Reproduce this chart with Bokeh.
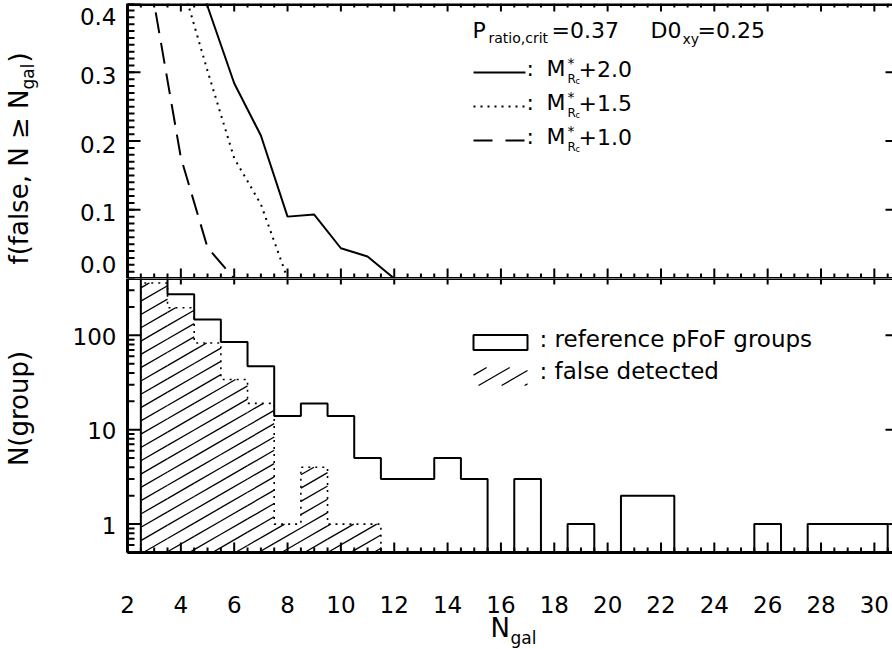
import math
import numpy as np
from bokeh.plotting import figure
from bokeh.layouts import column
from bokeh.models import Range1d, LogScale, Label
from bokeh.embed import file_html
from bokeh.resources import INLINE

# ---------------- data ----------------
# top panel: f(false, N >= Ngal) for three magnitude limits
n_m20 = [2, 3, 4, 5, 6, 7, 8, 9, 10, 11, 12]
f_m20 = [0.80, 0.62, 0.51, 0.396, 0.284, 0.208, 0.090, 0.093, 0.044, 0.032, 0.0]
n_m15 = [2, 3, 4, 5, 6, 7, 8]
f_m15 = [0.80, 0.60, 0.435, 0.302, 0.175, 0.108, 0.0]
n_m10 = [2, 3, 4, 5, 6]
f_m10 = [0.70, 0.40, 0.176, 0.045, 0.0]

# bottom panel: histograms of N(group) per Ngal bin
hist_n = list(range(3, 31))
hist_reference = [480, 272, 147, 85, 47, 14, 19, 14, 5, 3, 3, 5, 3, 0, 3, 0, 1, 0,
                  2, 2, 0, 0, 0, 1, 0, 1, 1, 1]
hist_false = [359, 196, 83, 34, 19, 1, 4, 1, 1, 0, 0, 0, 0, 0, 0, 0, 0, 0,
              0, 0, 0, 0, 0, 0, 0, 0, 0, 0]

x_ticks = list(range(2, 31, 2))
x_tick_labels = [str(t) for t in x_ticks]
top_y_ticks = [0.0, 0.1, 0.2, 0.3, 0.4]
top_y_labels = ["0.0", "0.1", "0.2", "0.3", "0.4"]
bot_y_ticks = [1, 10, 100]
bot_y_labels = ["1", "10", "100"]

# ---------------- layout constants (window pixels) ----------------
FONT = "DejaVu Sans"
W = 892
FL, FR = 127, 892
XMIN, XMAX = 2.0, 30.68
T_TOP, T_BOT = 3, 278
B_TOP, B_BOT = 278, 552
H_ALL = 649
TOP_YMIN, TOP_YMAX = 0.0, 0.4
BOT_YMIN, BOT_YMAX = 0.5, 400.0
LG0, LG1 = math.log10(BOT_YMIN), math.log10(BOT_YMAX)


def xd(X):
    return XMIN + (X - FL) / (FR - FL) * (XMAX - XMIN)


def Xp(x):
    return FL + (x - XMIN) / (XMAX - XMIN) * (FR - FL)


def yd_top(Y):
    return TOP_YMAX - (Y - T_TOP) / (T_BOT - T_TOP) * (TOP_YMAX - TOP_YMIN)


def Yp_top(v):
    return T_BOT - (v - TOP_YMIN) / (TOP_YMAX - TOP_YMIN) * (T_BOT - T_TOP)


def yd_bot(Y):
    return 10 ** (LG1 - (Y - B_TOP) / (B_BOT - B_TOP) * (LG1 - LG0))


def Yp_bot(y):
    return B_TOP + (LG1 - math.log10(y)) / (LG1 - LG0) * (B_BOT - B_TOP)


def add_label(p, X, Y, text, conv_y, size="22px", align="left", angle=0.0):
    """text whose visual middle sits at pixel row Y"""
    p.add_layout(Label(x=xd(X), y=conv_y(Y), text=text, text_font=FONT, text_font_size=size,
                       text_color="black", text_align=align, text_baseline="middle",
                       angle=angle))


def hline(p, Y, X0, X1, conv_y, width=3):
    p.line([xd(X0), xd(X1)], [conv_y(Y), conv_y(Y)], line_color="black", line_width=width)


def ticks_h(p, Ys, Xfrom, length, conv_y, width=2):
    """horizontal tick marks (for y axes) at pixel rows Ys"""
    p.segment([xd(Xfrom)] * len(Ys), [conv_y(Y) for Y in Ys],
              [xd(Xfrom + length)] * len(Ys), [conv_y(Y) for Y in Ys],
              line_color="black", line_width=width)


def ticks_v(p, xs, Yfrom, length, conv_y, width=2):
    """vertical tick marks (for x axes) at data x positions"""
    p.segment(list(xs), [conv_y(Yfrom)] * len(xs), list(xs), [conv_y(Yfrom + length)] * len(xs),
              line_color="black", line_width=width)


def make_fig(height, yr, top_border):
    p = figure(width=W, height=height, x_range=Range1d(xd(0), xd(W)), y_range=yr,
               x_axis_type=None, y_axis_type=None, output_backend="svg", toolbar_location=None,
               title=None, min_border_left=0, min_border_right=0, min_border_top=top_border,
               min_border_bottom=0)
    p.outline_line_color = None
    p.grid.visible = False
    p.background_fill_color = "white"
    p.border_fill_color = "white"
    return p


x_major = [float(t) for t in x_ticks]
x_minor = [float(v) for v in np.arange(2.0, 31.0, 0.5) if v not in x_ticks and v < XMAX]

# ================= top panel =================
top = make_fig(T_BOT, Range1d(TOP_YMIN, TOP_YMAX), T_TOP)

top.line(n_m20, f_m20, line_color="black", line_width=2)
top.line(n_m15, f_m15, line_color="black", line_width=2, line_dash="2 5")
top.line(n_m10, f_m10, line_color="black", line_width=2, line_dash="21 10")

# axes (drawn by hand)
top.line([XMIN, XMIN], [TOP_YMIN, TOP_YMAX], line_color="black", line_width=3)
hline(top, 4.0, FL, FR, yd_top)
hline(top, T_BOT, FL, FR, yd_top)
tyM = [Yp_top(v) for v in top_y_ticks]
tym = [Yp_top(v) for v in np.arange(0.0, 0.4001, 0.01)]
ticks_h(top, tym, FL, 7, yd_top)
ticks_h(top, tyM, FL, 13, yd_top)
ticks_h(top, tyM[1:4], FR, -7, yd_top)
ticks_v(top, x_minor, T_BOT, -5, yd_top)
ticks_v(top, x_major, T_BOT, -10, yd_top)
ticks_v(top, x_minor, T_TOP, 4, yd_top)
ticks_v(top, x_major, T_TOP, 8, yd_top)

# y tick labels (IDL-style placement)
shifts = [-14, 3, 3, 3, 13]
for v, t, sh in zip(top_y_ticks, top_y_labels, shifts):
    add_label(top, 116, Yp_top(v) + sh, t, yd_top, size="23px", align="right")

# y axis title with subscript
ang = math.pi / 2
add_label(top, 18, 264, "f(false, N \u2265 N", yd_top, size="26px", angle=ang)
add_label(top, 27, 264 - 175, "gal", yd_top, size="17px", angle=ang)
add_label(top, 18, 264 - 175 - 27, ")", yd_top, size="26px", angle=ang)

# annotation block
add_label(top, 472, 30, "P", yd_top, size="22px")
add_label(top, 488, 37, "ratio,crit", yd_top, size="14px")
add_label(top, 551, 30, "=0.37", yd_top, size="22px")
add_label(top, 650, 30, "D0", yd_top, size="22px")
add_label(top, 682, 38, "xy", yd_top, size="14px")
add_label(top, 697, 30, "=0.25", yd_top, size="22px")

rows = [(68, 72, "solid", "+2.0"), (102, 106, "2 5", "+1.5"), (136, 140, "19 13", "+1.0")]
for mid, yl, dash, txt in rows:
    top.line([xd(473), xd(525)], [yd_top(yl), yd_top(yl)], line_color="black", line_width=2,
             line_dash=dash)
    add_label(top, 526, mid, ":", yd_top, size="22px")
    add_label(top, 546, mid, "M", yd_top, size="22px")
    add_label(top, 567, mid - 6, "*", yd_top, size="14px")
    add_label(top, 567, mid + 10, "R", yd_top, size="12px")
    add_label(top, 575, mid + 13, "c", yd_top, size="8px")
    add_label(top, 578, mid, txt, yd_top, size="22px")

# ================= bottom panel =================
bot = make_fig(H_ALL - B_TOP, Range1d(yd_bot(H_ALL), BOT_YMAX), 0)
bot.y_scale = LogScale()


def step_outline(n, counts):
    nz = [i for i, c in enumerate(counts) if c > 0]
    last = nz[-1] + 1
    n, counts = n[:last], counts[:last]
    xs, ys = [n[0] - 0.5], [BOT_YMIN]
    for c, h in zip(n, counts):
        hh = h if h > 0 else BOT_YMIN
        xs += [c - 0.5, c + 0.5]
        ys += [hh, hh]
    xs.append(n[-1] + 0.5)
    ys.append(BOT_YMIN)
    return xs, ys


# hatching of the false-detected histogram (lines at 30 degrees)
TAN = math.tan(math.radians(30))
SP = 13.3
XR0, YR0 = 141.0, 287.0


def hatch_rect(Xl, Xr, Yt, Yb):
    segs = []
    for k in range(-80, 120):
        Yk = YR0 + k * SP
        lo = max(Xl, XR0 + (Yk - Yb) / TAN)
        hi = min(Xr, XR0 + (Yk - Yt) / TAN)
        if hi - lo > 0.5:
            segs.append((lo, Yk - (lo - XR0) * TAN, hi, Yk - (hi - XR0) * TAN))
    return segs


segs = []
for c, h in zip(hist_n, hist_false):
    if h > 0:
        segs += hatch_rect(Xp(c - 0.5), Xp(c + 0.5), Yp_bot(min(h, BOT_YMAX)), B_BOT)
leg_segs = hatch_rect(473, 527, 367, 385)
allsegs = segs + leg_segs
bot.segment([xd(s[0]) for s in allsegs], [yd_bot(s[1]) for s in allsegs],
            [xd(s[2]) for s in allsegs], [yd_bot(s[3]) for s in allsegs],
            line_color="black", line_width=1.3)

fx, fy = step_outline(hist_n, hist_false)
bot.line(fx, fy, line_color="black", line_width=1.6, line_dash="2 5")
rx, ry = step_outline(hist_n, hist_reference)
bot.line(rx, ry, line_color="black", line_width=2)

# axes (drawn by hand)
bot.line([XMIN, XMIN], [BOT_YMIN, BOT_YMAX], line_color="black", line_width=3)
hline(bot, B_BOT, FL, FR, yd_bot)
hline(bot, B_TOP, FL, FR, yd_bot)
byM = [Yp_bot(v) for v in bot_y_ticks]
log_minor = [0.5, 0.6, 0.7, 0.8, 0.9] + list(range(2, 10)) + list(range(20, 100, 10)) + [200, 300, 400]
bym = [Yp_bot(v) for v in log_minor]
ticks_h(bot, bym, FL, 7, yd_bot)
ticks_h(bot, byM, FL, 13, yd_bot)
ticks_h(bot, byM, FR, -7, yd_bot)
ticks_v(bot, x_minor, B_BOT, -5, yd_bot)
ticks_v(bot, x_major, B_BOT, -10, yd_bot)
ticks_v(bot, x_major, B_TOP, 6, yd_bot)

for v, t in zip(bot_y_ticks, bot_y_labels):
    add_label(bot, 116, Yp_bot(v) + 1, t, yd_bot, size="23px", align="right")
for v, t in zip(x_ticks, x_tick_labels):
    add_label(bot, Xp(v), 604, t, yd_bot, size="23px", align="center")

# legend
bot.quad(left=[xd(473)], right=[xd(527)], top=[yd_bot(334.5)], bottom=[yd_bot(349.5)],
         fill_color=None, line_color="black", line_width=2)
add_label(bot, 539, 338, ": reference pFoF groups", yd_bot, size="23px")
add_label(bot, 539, 370, ": false detected", yd_bot, size="23px")

# axis titles
add_label(bot, 18, 408, "N(group)", yd_bot, size="26px", align="center", angle=ang)
add_label(bot, 490, 627, "N", yd_bot, size="26px")
add_label(bot, 510, 637, "gal", yd_bot, size="17px")

layout = column(top, bot, spacing=0)
open("out.html", "w").write(file_html(layout, INLINE))
